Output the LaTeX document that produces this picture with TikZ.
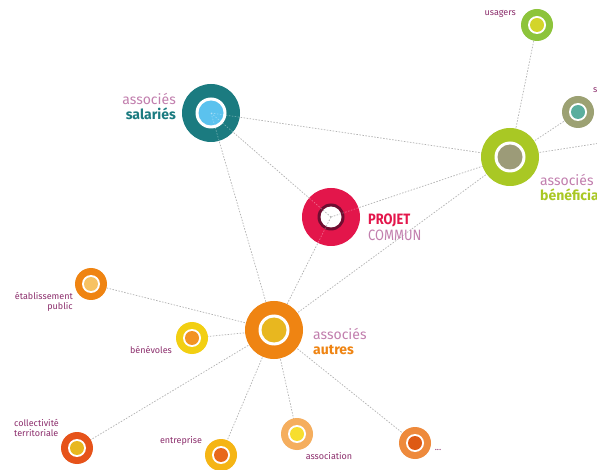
\documentclass[tikz,border=0pt]{standalone}
\usepackage{fontspec}
\setmainfont{Fira Sans}
\newfontfamily\condf[FakeStretch=0.86]{Fira Sans}
\definecolor{cTeal}{HTML}{1B7B80}
\definecolor{cLBlue}{HTML}{5BC2EE}
\definecolor{cRed}{HTML}{E3164B}
\definecolor{cDRed}{HTML}{6E0D30}
\definecolor{cLime}{HTML}{A9C824}
\definecolor{cOlive}{HTML}{9C9B78}
\definecolor{cOrange}{HTML}{EF8412}
\definecolor{cGold}{HTML}{E8B71F}
\definecolor{cGreen}{HTML}{8DC43B}
\definecolor{cYGreen}{HTML}{D3D52A}
\definecolor{cSage}{HTML}{9CA173}
\definecolor{cTealIn}{HTML}{5BAE9E}
\definecolor{cLOrange}{HTML}{F7C262}
\definecolor{cYellow}{HTML}{F2CF12}
\definecolor{cOrangeB}{HTML}{F29322}
\definecolor{cRedOr}{HTML}{E6531A}
\definecolor{cAmber}{HTML}{F5B515}
\definecolor{cOrangeC}{HTML}{E8681A}
\definecolor{cPeach}{HTML}{F5AE5E}
\definecolor{cYellowB}{HTML}{F7DE2E}
\definecolor{cOrangeD}{HTML}{EE8A3C}
\definecolor{cOrangeE}{HTML}{DE5A14}
\definecolor{cMauve}{HTML}{C27FAE}
\definecolor{cPurple}{HTML}{8C2E6C}
\pgfdeclarelayer{bg}
\pgfsetlayers{bg,main}
\begin{document}
\begin{tikzpicture}[x=1pt,y=-1pt,
  bigb/.style 2 args={circle, inner sep=0pt, minimum size=58pt, fill=#1,
    path picture={\fill[white] (path picture bounding box.center) circle[radius=15.5pt];
                  \fill[#2] (path picture bounding box.center) circle[radius=12.5pt];}},
  smallb/.style 2 args={circle, inner sep=0pt, minimum size=32pt, fill=#1,
    path picture={\fill[white] (path picture bounding box.center) circle[radius=9pt];
                  \fill[#2] (path picture bounding box.center) circle[radius=7pt];}},
  projb/.style={circle, inner sep=0pt, minimum size=58pt, fill=cRed,
    path picture={\fill[cDRed] (path picture bounding box.center) circle[radius=13.5pt];
                  \fill[white] (path picture bounding box.center) circle[radius=10.5pt];}},
  link/.style={draw=black!30, line width=0.7pt, dash pattern=on 1.5pt off 1.5pt},
  overlink/.style={draw=white, line width=0.7pt, dash pattern=on 1.5pt off 1.5pt, opacity=0.35},
  biglbl/.style={font=\fontsize{14}{15}\selectfont, inner sep=0pt},
  smalllbl/.style={font=\fontsize{9}{10.5}\selectfont, text=cPurple, inner sep=0pt}
]
\useasboundingbox (0,0) rectangle (597,470);
\begin{pgfonlayer}{bg}
\fill[white] (0,0) rectangle (597,470);
\end{pgfonlayer}

% bubbles
\node[bigb={cTeal}{cLBlue}] (sal) at (211,113) {};
\node[projb] (proj) at (331,217) {};
\node[bigb={cLime}{cOlive}] (ben) at (510,157) {};
\node[bigb={cOrange}{cGold}] (aut) at (274,330) {};
\node[smallb={cGreen}{cYGreen}] (usa) at (537,25) {};
\node[smallb={cSage}{cTealIn}] (soc) at (578,112) {};
\node[smallb={cOrange}{cLOrange}] (eta) at (91,284) {};
\node[smallb={cYellow}{cOrangeB}] (bnv) at (192,338) {};
\node[smallb={cRedOr}{cGold}] (col) at (77,448) {};
\node[smallb={cAmber}{cOrangeC}] (ent) at (221,455) {};
\node[smallb={cPeach}{cYellowB}] (asn) at (297,434) {};
\node[smallb={cOrangeD}{cOrangeE}] (etc) at (415,443) {};
\coordinate (edge) at (620,140);

% connectors (behind the bubbles)
\begin{pgfonlayer}{bg}
\draw[link] (sal.center) -- (proj.center);
\draw[link] (sal.center) -- (ben.center);
\draw[link] (sal.center) -- (aut.center);
\draw[link] (proj.center) -- (ben.center);
\draw[link] (proj.center) -- (aut.center);
\draw[link] (aut.center) -- (ben.center);
\draw[link] (ben.center) -- (usa.center);
\draw[link] (ben.center) -- (soc.center);
\draw[link] (ben.center) -- (edge);
\draw[link] (aut.center) -- (eta.center);
\draw[link] (aut.center) -- (bnv.center);
\draw[link] (aut.center) -- (col.center);
\draw[link] (aut.center) -- (ent.center);
\draw[link] (aut.center) -- (asn.center);
\draw[link] (aut.center) -- (etc.center);
\end{pgfonlayer}

% faint connector traces visible across the central bubbles
\begin{scope}
\clip (proj.center) circle[radius=29pt];
\draw[overlink] (proj.center) -- (sal.center);
\draw[overlink] (proj.center) -- (ben.center);
\draw[overlink] (proj.center) -- (aut.center);
\end{scope}
\begin{scope}
\clip (proj.center) circle[radius=10.5pt];
\draw[link] (proj.center) -- (sal.center);
\draw[link] (proj.center) -- (ben.center);
\draw[link] (proj.center) -- (aut.center);
\end{scope}
\begin{scope}
\clip (sal.center) circle[radius=29pt];
\draw[overlink] (sal.center) -- (proj.center);
\draw[overlink] (sal.center) -- (ben.center);
\draw[overlink] (sal.center) -- (aut.center);
\end{scope}

% labels
\node[biglbl, anchor=east, align=right] (lsal) at (176,107)
  {\textcolor{cMauve}{associés}\\\textcolor{cTeal}{\bfseries salariés}};
\node[inner sep=0pt, anchor=west, align=left, font=\condf\fontsize{15}{16}\selectfont] (lproj) at (368,227)
  {\textcolor{cRed}{\bfseries PROJET}\\\textcolor{cMauve}{COMMUN}};
\node[biglbl, anchor=west, align=left] (lben) at (540,188)
  {\textcolor{cMauve}{associés}\\\textcolor{cLime}{\bfseries bénéficia}};
\node[biglbl, anchor=west, align=left] (laut) at (313,342)
  {\textcolor{cMauve}{associés}\\\textcolor{cOrange}{\bfseries autres}};
\node[smalllbl, anchor=east] (lusa) at (516,14) {usagers};
\node[smalllbl, anchor=west] (lsoc) at (593,90) {s};
\node[smalllbl, anchor=east, align=right] (leta) at (73,302) {établissement\\public};
\node[smalllbl] (lbnv) at (151,350) {bénévoles};
\node[smalllbl, anchor=west, align=left] (lcol) at (14,428) {collectivité\\territoriale};
\node[smalllbl] (lent) at (181,441) {entreprise};
\node[smalllbl] (lasn) at (329,456) {association};
\node[smalllbl] (letc) at (438,450) {...};
\end{tikzpicture}
\end{document}
